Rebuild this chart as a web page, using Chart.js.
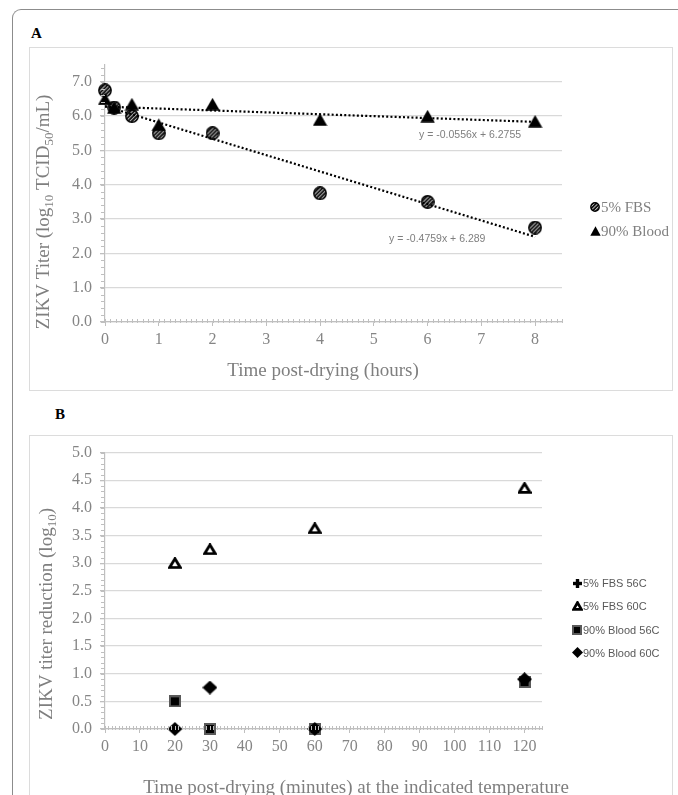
<!DOCTYPE html>
<html>
<head>
<meta charset="utf-8">
<script src="https://cdn.jsdelivr.net/npm/chart.js@4.4.1/dist/chart.umd.min.js"></script>
<style>
html, body { margin: 0; padding: 0; background: #fff; width: 678px; height: 795px; overflow: hidden; }
#frame { position: absolute; left: 12px; top: 9px; width: 720px; height: 840px;
  border-left: 1.5px solid #8c8c8c; border-top: 1.5px solid #8c8c8c; border-top-left-radius: 9px; }
.lbl { position: absolute; font: bold 15px "Liberation Serif"; line-height: 16px; color: #000; }
.box { position: absolute; left: 29px; width: 644px; border: 1.5px solid #dcdcdc; box-sizing: border-box; }
canvas { position: absolute; left: 29px; }
</style>
</head>
<body>
<div id="frame"></div>
<div class="lbl" style="left:31px;top:25px;">A</div>
<div class="lbl" style="left:55px;top:406px;">B</div>
<div class="box" style="top:47px;height:344px;"></div>
<div class="box" style="top:435px;height:400px;"></div>
<canvas id="chartA" width="644" height="344" style="top:47px;"></canvas>
<canvas id="chartB" width="644" height="365" style="top:435px;"></canvas>
<script>
// ---- panel A data: titer over drying time (hours)
var hoursA = [0, 0.17, 0.5, 1, 2, 4, 6, 8];
var titerFBS = [6.75, 6.25, 6.0, 5.5, 5.5, 3.75, 3.5, 2.75];
var titerBlood = [6.5, 6.25, 6.35, 5.75, 6.35, 5.9, 6.0, 5.85];
// trendline ends read from the printed equations (x = 0 and x = 8)
var trendX = [0, 8];
var trendFBS = [6.289, 2.482];
var trendBlood = [6.2755, 5.831];
var eqFBS = 'y = -0.4759x + 6.289';
var eqBlood = 'y = -0.0556x + 6.2755';
var labelsA = ['5% FBS', '90% Blood'];
var xTicksA = [0, 1, 2, 3, 4, 5, 6, 7, 8];
var yTicksA = [0, 1, 2, 3, 4, 5, 6, 7];

// ---- panel B data: titer reduction after heat (minutes)
var minutesB = [20, 30, 60, 120];
var fbs56 = [];
var fbs60 = [3.0, 3.25, 3.63, 4.36];
var blood56 = [0.5, 0.0, 0.0, 0.85];
var blood60 = [0.0, 0.75, 0.0, 0.9];
var labelsB = ['5% FBS 56C', '5% FBS 60C', '90% Blood 56C', '90% Blood 60C'];
var xTicksB = [0, 10, 20, 30, 40, 50, 60, 70, 80, 90, 100, 110, 120];
var yTicksB = [0, 0.5, 1, 1.5, 2, 2.5, 3, 3.5, 4, 4.5, 5];

var SERIF = '"Liberation Serif", "Times New Roman", serif';
var SANS = '"Liberation Sans", Arial, sans-serif';
var GREY = '#858585';
var AXIS = '#bfbfbf';
var GRID = '#d9d9d9';

function pts(xs, ys) {
    return ys.map(function (v, i) { return { x: xs[i], y: v }; });
}

// ---- marker images
function mk(w, h, draw) {
    var c = document.createElement('canvas');
    c.width = w; c.height = h;
    draw(c.getContext('2d'), w, h);
    return c;
}
function hatchCircle(d) {
    return mk(d, d, function (c, w) {
        var r = w / 2 - 0.8;
        c.beginPath(); c.arc(w / 2, w / 2, r, 0, Math.PI * 2);
        c.fillStyle = '#fff'; c.fill();
        c.save(); c.clip();
        c.strokeStyle = '#111'; c.lineWidth = 2;
        for (var k = -w; k < 2 * w; k += 3.8) {
            c.beginPath(); c.moveTo(k, w); c.lineTo(k + w, 0); c.stroke();
        }
        c.restore();
        c.beginPath(); c.arc(w / 2, w / 2, r, 0, Math.PI * 2);
        c.lineWidth = 1.4; c.strokeStyle = '#000'; c.stroke();
    });
}
function triangle(w, h, open) {
    return mk(w, h, function (c) {
        var m = open ? 1.6 : 0.3;
        c.beginPath();
        c.moveTo(w / 2, m); c.lineTo(w - m, h - m); c.lineTo(m, h - m); c.closePath();
        if (open) {
            c.fillStyle = '#fff'; c.fill();
            c.lineWidth = 2.8; c.lineJoin = 'miter'; c.strokeStyle = '#000'; c.stroke();
        } else {
            c.fillStyle = '#000'; c.fill();
        }
    });
}
function square(s) {
    return mk(s, s, function (c) {
        c.fillStyle = '#000'; c.fillRect(1, 1, s - 2, s - 2);
        c.lineWidth = 2; c.strokeStyle = '#5a5a5a'; c.strokeRect(1, 1, s - 2, s - 2);
    });
}
function diamond(w, h) {
    return mk(w, h, function (c) {
        c.beginPath();
        c.moveTo(w / 2, 0); c.lineTo(w, h / 2); c.lineTo(w / 2, h); c.lineTo(0, h / 2); c.closePath();
        c.fillStyle = '#000'; c.fill();
    });
}
function plus(s) {
    return mk(s, s, function (c) {
        var t = 3.4, o = (s - t) / 2;
        c.fillStyle = '#000';
        c.fillRect(o, 0, t, s); c.fillRect(0, o, s, t);
    });
}

// ---- helpers for drawing
function richText(ctx, parts, cx, cy, rotate, size) {
    ctx.save();
    ctx.translate(cx, cy);
    if (rotate) ctx.rotate(-Math.PI / 2);
    ctx.textBaseline = 'middle';
    var total = 0;
    parts.forEach(function (p) {
        ctx.font = (p.sub ? Math.round(size * 0.68) : size) + 'px ' + SERIF;
        p.w = ctx.measureText(p.t).width;
        total += p.w;
    });
    var x = -total / 2;
    parts.forEach(function (p) {
        ctx.font = (p.sub ? Math.round(size * 0.68) : size) + 'px ' + SERIF;
        ctx.fillText(p.t, x, p.sub ? size * 0.28 : 0);
        x += p.w;
    });
    ctx.restore();
}

function decorPlugin(cfg) {
    return {
        id: 'decor',
        afterDraw: function (chart) {
            var ctx = chart.ctx, xs = chart.scales.x, ys = chart.scales.y, i, v, p;
            ctx.save();
            // minor ticks
            ctx.strokeStyle = AXIS; ctx.lineWidth = 1;
            ctx.beginPath();
            for (i = 0; (v = i * cfg.yMinor) <= ys.max + 1e-9; i++) {
                p = Math.round(ys.getPixelForValue(v)) + 0.5;
                ctx.moveTo(xs.left - 4, p); ctx.lineTo(xs.left, p);
            }
            for (i = 0; (v = i * cfg.xMinor) <= xs.max + 1e-9; i++) {
                p = Math.round(xs.getPixelForValue(v)) + 0.5;
                ctx.moveTo(p, ys.bottom - 3); ctx.lineTo(p, ys.bottom + 1);
            }
            ctx.stroke();
            // axis titles
            ctx.fillStyle = '#7f7f7f';
            richText(ctx, cfg.yTitle, cfg.yTitlePos[0], cfg.yTitlePos[1], true, 19);
            richText(ctx, cfg.xTitle, cfg.xTitlePos[0], cfg.xTitlePos[1], false, 19);
            // free text (equations)
            (cfg.notes || []).forEach(function (n) {
                ctx.font = n.font; ctx.fillStyle = n.color;
                ctx.textAlign = 'center'; ctx.textBaseline = 'middle';
                ctx.fillText(n.text, xs.getPixelForValue(n.at[0]), ys.getPixelForValue(n.at[1]));
            });
            // legend
            var L = cfg.legend;
            ctx.font = L.font; ctx.fillStyle = L.color;
            ctx.textAlign = 'left'; ctx.textBaseline = 'middle';
            L.items.forEach(function (it, k) {
                var y = L.y + k * L.gap;
                ctx.drawImage(it.icon, Math.round(L.x - it.icon.width / 2), Math.round(y - it.icon.height / 2));
                ctx.fillText(it.text, L.x + L.dx, y + 1);
            });
            ctx.restore();
        }
    };
}

function axisX(min, max, keep, height) {
    return {
        type: 'linear', min: min, max: max,
        ticks: { color: GREY, padding: 4, font: { family: SERIF, size: 16 }, maxRotation: 0, autoSkip: false },
        afterBuildTicks: function (s) { s.ticks = keep.map(function (v) { return { value: v }; }); },
        afterFit: function (s) { s.height = height; },
        grid: { display: true, drawOnChartArea: false, tickLength: 4, tickColor: AXIS },
        border: { color: AXIS, width: 1.2 }
    };
}
function axisY(min, max, keep) {
    return {
        type: 'linear', min: min, max: max,
        ticks: { color: GREY, padding: 8, font: { family: SERIF, size: 16 }, autoSkip: false,
                 callback: function (v) { return v.toFixed(1); } },
        afterBuildTicks: function (s) { s.ticks = keep.map(function (v) { return { value: v }; }); },
        afterFit: function (s) { s.width = 76; },
        grid: { color: GRID, lineWidth: 1.3, tickLength: 5, tickColor: AXIS },
        border: { color: AXIS, width: 1.2 }
    };
}

// ---- chart A
var icCircle = hatchCircle(14), icTri = triangle(15, 13, false);
new Chart(document.getElementById('chartA'), {
    type: 'scatter',
    data: {
        datasets: [
            { label: labelsA[1], data: pts(hoursA, titerBlood), pointStyle: icTri, pointRadius: 7, order: 1, clip: false },
            { label: labelsA[0], data: pts(hoursA, titerFBS), pointStyle: icCircle, pointRadius: 7, order: 2, clip: false },
            { label: 'trend FBS', data: pts(trendX, trendFBS), showLine: true, pointRadius: 0,
              borderColor: '#000', borderWidth: 2.2, borderDash: [2, 2.2], order: 0 },
            { label: 'trend Blood', data: pts(trendX, trendBlood), showLine: true, pointRadius: 0,
              borderColor: '#000', borderWidth: 2.2, borderDash: [2, 2.2], order: 0 }
        ]
    },
    options: {
        responsive: false, animation: false, events: [],
        layout: { padding: { left: 0, top: 15, right: 111, bottom: 0 } },
        plugins: { legend: { display: false }, tooltip: { enabled: false } },
        scales: {
            x: axisX(0, 8.5, xTicksA, 69),
            y: axisY(0, 7.5, yTicksA)
        }
    },
    plugins: [decorPlugin({
        yMinor: 0.2, xMinor: 0.1,
        yTitle: [{ t: 'ZIKV Titer (log' }, { t: '10', sub: true }, { t: ' TCID' }, { t: '50', sub: true }, { t: '/mL)' }],
        yTitlePos: [15, 165],
        xTitle: [{ t: 'Time post-drying (hours)' }],
        xTitlePos: [294, 324],
        notes: [
            { text: eqBlood, at: [6.79, 5.45], font: '10.5px ' + SANS, color: '#7f7f7f' },
            { text: eqFBS, at: [6.18, 2.42], font: '10.5px ' + SANS, color: '#7f7f7f' }
        ],
        legend: { x: 566, dx: 6, y: 160, gap: 24, font: '15px ' + SERIF, color: '#808080',
                  items: [{ icon: hatchCircle(10), text: labelsA[0] }, { icon: triangle(11, 10, false), text: labelsA[1] }] }
    })]
});

// ---- chart B
var icOpenTri = triangle(14, 12, true), icSq = square(12), icDia = diamond(15, 14), icPlus = plus(10);
new Chart(document.getElementById('chartB'), {
    type: 'scatter',
    data: {
        datasets: [
            { label: labelsB[0], data: pts(minutesB, fbs56), pointStyle: icPlus, pointRadius: 6, order: 0, clip: false },
            { label: labelsB[1], data: pts(minutesB, fbs60), pointStyle: icOpenTri, pointRadius: 7, order: 1, clip: false },
            { label: labelsB[3], data: pts(minutesB, blood60), pointStyle: icDia, pointRadius: 7, order: 2, clip: false },
            { label: labelsB[2], data: pts(minutesB, blood56), pointStyle: icSq, pointRadius: 6, order: 3, clip: false }
        ]
    },
    options: {
        responsive: false, animation: false, events: [],
        layout: { padding: { left: 0, top: 16, right: 131, bottom: 0 } },
        plugins: { legend: { display: false }, tooltip: { enabled: false } },
        scales: {
            x: axisX(0, 125, xTicksB, 71),
            y: axisY(0, 5, yTicksB)
        }
    },
    plugins: [decorPlugin({
        yMinor: 0.1, xMinor: 1,
        yTitle: [{ t: 'ZIKV titer reduction (log' }, { t: '10', sub: true }, { t: ')' }],
        yTitlePos: [18, 179],
        xTitle: [{ t: 'Time post-drying (minutes) at the indicated temperature' }],
        xTitlePos: [327, 353],
        legend: { x: 548, dx: 6, y: 148, gap: 23.3, font: '11px ' + SANS, color: '#595959',
                  items: [{ icon: plus(9), text: labelsB[0] }, { icon: triangle(11, 10, true), text: labelsB[1] },
                          { icon: square(10), text: labelsB[2] }, { icon: diamond(11, 11), text: labelsB[3] }] }
    })]
});
</script>
</body>
</html>
